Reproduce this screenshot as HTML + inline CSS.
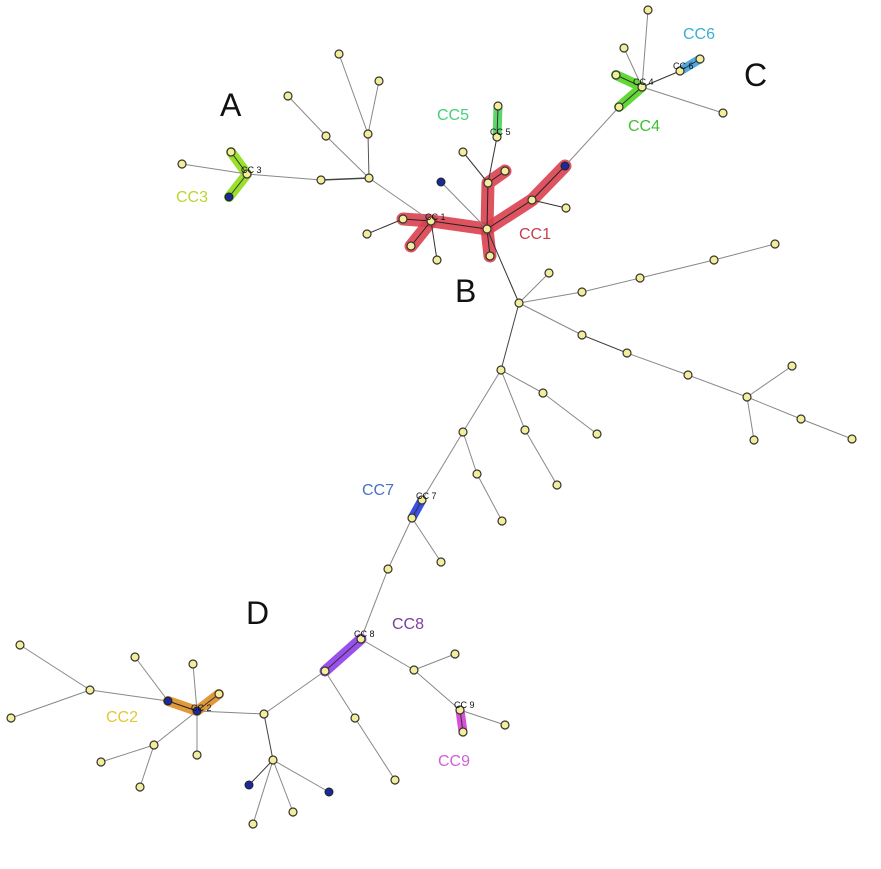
<!DOCTYPE html>
<html><head><meta charset="utf-8"><style>
html,body{margin:0;padding:0;background:#fff;}
svg{display:block;}
text{font-family:"Liberation Sans",sans-serif;}
</style></head><body>
<svg width="881" height="869" viewBox="0 0 881 869" xmlns="http://www.w3.org/2000/svg">
<!-- highlights -->
<g stroke-linecap="round" stroke-linejoin="round" fill="none" stroke-width="13">
<polyline points="403,219 431,221 487,229" stroke="#d9404f" opacity="0.9"/>
<polyline points="411,246 431,221" stroke="#d9404f" opacity="0.9"/>
<polyline points="490,256 487,229 488,183 505,171" stroke="#d9404f" opacity="0.9"/>
<polyline points="487,229 532,200 565,166" stroke="#d9404f" opacity="0.9"/>
<polyline points="231,152 247,174 229,197" stroke="#98e02c" stroke-width="10"/>
<polyline points="498,106 497,137" stroke="#5ed46a" stroke-width="9"/>
<polyline points="616,75 642,87 619,107" stroke="#62d834" stroke-width="10"/>
<polyline points="680,71 700,59" stroke="#50a8e0" stroke-width="9"/>
<polyline points="422,500 412,518" stroke="#3c4ee8" stroke-width="9"/>
<polyline points="361,639 325,671" stroke="#9a50ec" stroke-width="11"/>
<polyline points="460,710 463,732" stroke="#d850d8" stroke-width="9"/>
<polyline points="168,701 197,711 219,694" stroke="#e0983c" stroke-width="10"/>
</g>
<!-- edges -->
<g stroke="#888" stroke-width="1" fill="none">
<line x1="369" y1="178" x2="321" y2="180" stroke="#444" stroke-width="1.5"/>
<line x1="369" y1="178" x2="368" y2="134" stroke="#555"/>
<line x1="369" y1="178" x2="431" y2="221"/>
<line x1="369" y1="178" x2="326" y2="136"/>
<line x1="326" y1="136" x2="288" y2="96"/>
<line x1="368" y1="134" x2="379" y2="81"/>
<line x1="368" y1="134" x2="339" y2="54"/>
<line x1="321" y1="180" x2="247" y2="174"/>
<line x1="247" y1="174" x2="182" y2="164"/>
<line x1="247" y1="174" x2="231" y2="152" stroke="#333"/>
<line x1="247" y1="174" x2="229" y2="197" stroke="#333"/>
<line x1="431" y1="221" x2="403" y2="219" stroke="#222"/>
<line x1="431" y1="221" x2="411" y2="246" stroke="#222"/>
<line x1="431" y1="221" x2="437" y2="260" stroke="#333"/>
<line x1="431" y1="221" x2="487" y2="229" stroke="#222"/>
<line x1="403" y1="219" x2="367" y2="234" stroke="#333"/>
<line x1="487" y1="229" x2="490" y2="256" stroke="#222"/>
<line x1="487" y1="229" x2="488" y2="183" stroke="#222"/>
<line x1="487" y1="229" x2="532" y2="200" stroke="#222"/>
<line x1="487" y1="229" x2="441" y2="182"/>
<line x1="487" y1="229" x2="519" y2="303" stroke="#333"/>
<line x1="488" y1="183" x2="505" y2="171" stroke="#222"/>
<line x1="488" y1="183" x2="463" y2="152" stroke="#333"/>
<line x1="488" y1="183" x2="497" y2="137" stroke="#333"/>
<line x1="497" y1="137" x2="498" y2="106" stroke="#333"/>
<line x1="532" y1="200" x2="565" y2="166" stroke="#222"/>
<line x1="532" y1="200" x2="566" y2="208" stroke="#333"/>
<line x1="565" y1="166" x2="619" y2="107"/>
<line x1="642" y1="87" x2="619" y2="107" stroke="#333"/>
<line x1="642" y1="87" x2="616" y2="75" stroke="#333"/>
<line x1="642" y1="87" x2="624" y2="48"/>
<line x1="642" y1="87" x2="648" y2="10"/>
<line x1="642" y1="87" x2="680" y2="71" stroke="#333"/>
<line x1="642" y1="87" x2="723" y2="113"/>
<line x1="680" y1="71" x2="700" y2="59" stroke="#333"/>
<line x1="519" y1="303" x2="549" y2="273"/>
<line x1="519" y1="303" x2="582" y2="292"/>
<line x1="582" y1="292" x2="640" y2="278"/>
<line x1="640" y1="278" x2="714" y2="260"/>
<line x1="714" y1="260" x2="775" y2="244"/>
<line x1="519" y1="303" x2="582" y2="335"/>
<line x1="582" y1="335" x2="627" y2="353" stroke="#444"/>
<line x1="627" y1="353" x2="688" y2="375"/>
<line x1="688" y1="375" x2="747" y2="397"/>
<line x1="747" y1="397" x2="792" y2="366"/>
<line x1="747" y1="397" x2="754" y2="440"/>
<line x1="747" y1="397" x2="801" y2="419"/>
<line x1="801" y1="419" x2="852" y2="439"/>
<line x1="519" y1="303" x2="501" y2="370" stroke="#444"/>
<line x1="501" y1="370" x2="543" y2="393"/>
<line x1="543" y1="393" x2="597" y2="434"/>
<line x1="501" y1="370" x2="525" y2="430"/>
<line x1="525" y1="430" x2="557" y2="485"/>
<line x1="501" y1="370" x2="463" y2="432"/>
<line x1="463" y1="432" x2="477" y2="474"/>
<line x1="477" y1="474" x2="502" y2="521"/>
<line x1="463" y1="432" x2="422" y2="500"/>
<line x1="422" y1="500" x2="412" y2="518" stroke="#333"/>
<line x1="412" y1="518" x2="441" y2="562"/>
<line x1="412" y1="518" x2="388" y2="569"/>
<line x1="388" y1="569" x2="361" y2="639"/>
<line x1="361" y1="639" x2="325" y2="671" stroke="#333"/>
<line x1="361" y1="639" x2="414" y2="670"/>
<line x1="414" y1="670" x2="455" y2="654"/>
<line x1="414" y1="670" x2="460" y2="710"/>
<line x1="460" y1="710" x2="463" y2="732" stroke="#333"/>
<line x1="460" y1="710" x2="505" y2="725"/>
<line x1="325" y1="671" x2="355" y2="718"/>
<line x1="355" y1="718" x2="395" y2="780"/>
<line x1="325" y1="671" x2="264" y2="714"/>
<line x1="264" y1="714" x2="273" y2="760" stroke="#444"/>
<line x1="273" y1="760" x2="249" y2="785" stroke="#333"/>
<line x1="273" y1="760" x2="329" y2="792"/>
<line x1="273" y1="760" x2="293" y2="812"/>
<line x1="273" y1="760" x2="253" y2="824"/>
<line x1="264" y1="714" x2="197" y2="711"/>
<line x1="197" y1="711" x2="168" y2="701" stroke="#222"/>
<line x1="197" y1="711" x2="219" y2="694" stroke="#333"/>
<line x1="197" y1="711" x2="193" y2="664"/>
<line x1="197" y1="711" x2="197" y2="755"/>
<line x1="197" y1="711" x2="154" y2="745"/>
<line x1="154" y1="745" x2="101" y2="762"/>
<line x1="154" y1="745" x2="140" y2="787"/>
<line x1="168" y1="701" x2="135" y2="657"/>
<line x1="168" y1="701" x2="90" y2="690"/>
<line x1="90" y1="690" x2="20" y2="645"/>
<line x1="90" y1="690" x2="11" y2="718"/>
</g>
<!-- nodes -->
<g fill="#f4ee9a" stroke="#333" stroke-width="1.2">
<circle cx="339" cy="54" r="4"/><circle cx="379" cy="81" r="4"/><circle cx="288" cy="96" r="4"/>
<circle cx="326" cy="136" r="4"/><circle cx="368" cy="134" r="4"/><circle cx="369" cy="178" r="4"/>
<circle cx="321" cy="180" r="4"/><circle cx="182" cy="164" r="4"/><circle cx="247" cy="174" r="4"/>
<circle cx="231" cy="152" r="4"/><circle cx="498" cy="106" r="4"/><circle cx="497" cy="137" r="4"/>
<circle cx="463" cy="152" r="4"/><circle cx="488" cy="183" r="4"/><circle cx="505" cy="171" r="4"/>
<circle cx="532" cy="200" r="4"/><circle cx="566" cy="208" r="4"/><circle cx="487" cy="229" r="4"/>
<circle cx="490" cy="256" r="4"/><circle cx="431" cy="221" r="4"/><circle cx="403" cy="219" r="4"/>
<circle cx="367" cy="234" r="4"/><circle cx="411" cy="246" r="4"/><circle cx="437" cy="260" r="4"/>
<circle cx="648" cy="10" r="4"/><circle cx="624" cy="48" r="4"/><circle cx="700" cy="59" r="4"/>
<circle cx="680" cy="71" r="4"/><circle cx="616" cy="75" r="4"/><circle cx="642" cy="87" r="4"/>
<circle cx="619" cy="107" r="4"/><circle cx="723" cy="113" r="4"/>
<circle cx="519" cy="303" r="4"/><circle cx="549" cy="273" r="4"/><circle cx="582" cy="292" r="4"/>
<circle cx="640" cy="278" r="4"/><circle cx="714" cy="260" r="4"/><circle cx="775" cy="244" r="4"/>
<circle cx="582" cy="335" r="4"/><circle cx="627" cy="353" r="4"/><circle cx="688" cy="375" r="4"/>
<circle cx="747" cy="397" r="4"/><circle cx="792" cy="366" r="4"/><circle cx="801" cy="419" r="4"/>
<circle cx="852" cy="439" r="4"/><circle cx="754" cy="440" r="4"/>
<circle cx="501" cy="370" r="4"/><circle cx="543" cy="393" r="4"/><circle cx="597" cy="434" r="4"/>
<circle cx="525" cy="430" r="4"/><circle cx="557" cy="485" r="4"/><circle cx="463" cy="432" r="4"/>
<circle cx="477" cy="474" r="4"/><circle cx="502" cy="521" r="4"/><circle cx="422" cy="500" r="4"/>
<circle cx="412" cy="518" r="4"/><circle cx="441" cy="562" r="4"/><circle cx="388" cy="569" r="4"/>
<circle cx="361" cy="639" r="4"/><circle cx="325" cy="671" r="4"/><circle cx="414" cy="670" r="4"/>
<circle cx="455" cy="654" r="4"/><circle cx="460" cy="710" r="4"/><circle cx="463" cy="732" r="4"/>
<circle cx="505" cy="725" r="4"/><circle cx="355" cy="718" r="4"/><circle cx="395" cy="780" r="4"/>
<circle cx="264" cy="714" r="4"/><circle cx="273" cy="760" r="4"/><circle cx="293" cy="812" r="4"/>
<circle cx="253" cy="824" r="4"/><circle cx="219" cy="694" r="4"/><circle cx="193" cy="664" r="4"/>
<circle cx="135" cy="657" r="4"/><circle cx="90" cy="690" r="4"/><circle cx="20" cy="645" r="4"/>
<circle cx="11" cy="718" r="4"/><circle cx="154" cy="745" r="4"/><circle cx="101" cy="762" r="4"/>
<circle cx="140" cy="787" r="4"/><circle cx="197" cy="755" r="4"/>
</g>
<g fill="#1a2a9a" stroke="#222" stroke-width="1">
<circle cx="229" cy="197" r="4"/><circle cx="441" cy="182" r="4"/><circle cx="565" cy="166" r="4"/>
<circle cx="197" cy="711" r="4"/><circle cx="168" cy="701" r="4"/><circle cx="249" cy="785" r="4"/>
<circle cx="329" cy="792" r="4"/>
</g>
<!-- small labels -->
<g font-size="9" fill="#111">
<text x="241" y="173">CC 3</text>
<text x="425" y="220">CC 1</text>
<text x="490" y="135">CC 5</text>
<text x="633" y="85">CC 4</text>
<text x="673" y="69">CC 6</text>
<text x="416" y="499">CC 7</text>
<text x="354" y="637">CC 8</text>
<text x="454" y="708">CC 9</text>
<text x="191" y="711">CC 2</text>
</g>
<!-- big letters -->
<g font-size="32" fill="#111">
<text x="220" y="116">A</text>
<text x="455" y="302">B</text>
<text x="744" y="86">C</text>
<text x="246" y="624">D</text>
</g>
<g font-size="16">
<text x="683" y="39" fill="#3ab0d0">CC6</text>
<text x="437" y="120" fill="#44d07a">CC5</text>
<text x="628" y="131" fill="#40c030">CC4</text>
<text x="176" y="202" fill="#b8d830">CC3</text>
<text x="519" y="239" fill="#c84050">CC1</text>
<text x="362" y="495" fill="#4a70c8">CC7</text>
<text x="392" y="629" fill="#7a40a0">CC8</text>
<text x="106" y="722" fill="#e0c838">CC2</text>
<text x="438" y="766" fill="#d060d8">CC9</text>
</g>
</svg>
</body></html>
